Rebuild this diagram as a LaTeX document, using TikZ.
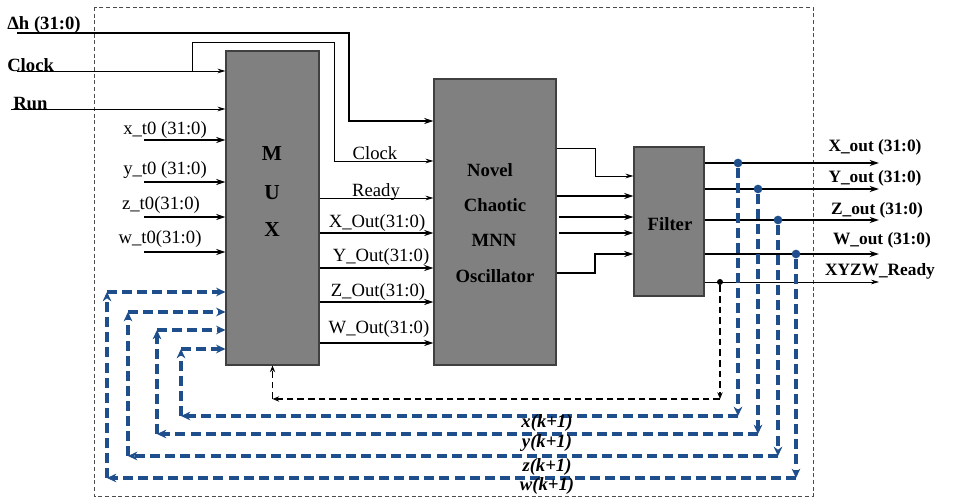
\documentclass[tikz,border=0pt]{standalone}
\usepackage{fontspec}
\setmainfont{Liberation Serif}
\usetikzlibrary{arrows.meta,fit}
\definecolor{fb}{HTML}{1F4E8C}
\begin{document}
\begin{tikzpicture}[x=0.75pt,y=-0.75pt,
  blk/.style={draw=black!75, fill=black!50, line width=0.8pt, inner sep=0pt},
  thinw/.style={line width=0.7pt, -{Stealth[length=6pt,width=3.5pt]}},
  bus/.style={line width=2pt, -{Stealth[length=7pt,width=4.5pt]}},
  fbk/.style={draw=fb, line width=2.6pt, dash pattern=on 7.5pt off 3.8pt, -{Stealth[length=7pt,width=6.5pt]}},
  rdy/.style={line width=0.8pt, dash pattern=on 5pt off 3pt, -{Stealth[length=5pt,width=4pt]}},
  lbl/.style={font=\fontsize{14}{16}\selectfont, inner sep=0pt},
  blbl/.style={font=\bfseries\fontsize{14}{16}\selectfont, inner sep=0pt},
  rlbl/.style={font=\bfseries\fontsize{13}{15}\selectfont, inner sep=0pt},
  klbl/.style={font=\bfseries\itshape\fontsize{14}{16}\selectfont, inner sep=0pt},
  bigl/.style={font=\bfseries\fontsize{16}{18}\selectfont, inner sep=0pt},
  dot/.style={circle, fill=fb, inner sep=0pt, minimum size=6.5pt},
  bdot/.style={circle, fill=black, inner sep=0pt, minimum size=4.5pt}
]
\useasboundingbox (0,0) rectangle (979,498);
% outer dashed frame
\draw[black!70, line width=0.6pt, densely dashed] (94,7) rectangle (813,496);

% blocks
\node[blk, fit={(226,51)(319,365)}] (mux) {};
\node[blk, fit={(434,79)(556,365)}] (osc) {};
\node[blk, fit={(634,147)(704,296)}] (flt) {};

\node[bigl] (mM) at (272,154) {M};
\node[bigl] (mU) at (272,193) {U};
\node[bigl] (mX) at (272,230) {X};
\node[blbl] (o1) at (490,170) {Novel};
\node[blbl] (o2) at (495,205) {Chaotic};
\node[blbl] (o3) at (494,240) {MNN};
\node[blbl] (o4) at (495,276) {Oscillator};
\node[blbl] (fl) at (670,224) {Filter};

% input labels
\node[blbl, anchor=west] (ldh) at (7,25) {Δh (31:0)};
\node[blbl, anchor=west] (lclk) at (7,65) {Clock};
\node[blbl, anchor=west] (lrun) at (13,104) {Run};
\node[lbl] (lx0) at (165,130) {x\_t0 (31:0)};
\node[lbl] (ly0) at (165,170) {y\_t0 (31:0)};
\node[lbl] (lz0) at (161,205) {z\_t0(31:0)};
\node[lbl] (lw0) at (160,239) {w\_t0(31:0)};

% input free ends
\coordinate (dh0) at (17,33);
\coordinate (dhk) at (349,121);
\coordinate (clk0) at (17,71);
\coordinate (clkb) at (192,71);
\coordinate (clkc) at (334,161);
\coordinate (run0) at (11,109);
\coordinate (x0) at (144,140);
\coordinate (y0) at (144,182);
\coordinate (z0) at (144,217);
\coordinate (w0) at (144,252);

\draw[bus] (dh0) -| (dhk) -- (dhk -| osc.west);
\draw[thinw] (clk0) -- (clk0 -| mux.west);
\draw[thinw] (clkb) -- ++(0,-29) -| (clkc) -- (clkc -| osc.west);
\draw[thinw] (run0) -- (run0 -| mux.west);
\draw[bus] (x0) -- (x0 -| mux.west);
\draw[bus] (y0) -- (y0 -| mux.west);
\draw[bus] (z0) -- (z0 -| mux.west);
\draw[bus] (w0) -- (w0 -| mux.west);

% MUX -> oscillator
\node[lbl] (lck) at (375,153) {Clock};
\node[lbl] (lrd) at (376,192) {Ready};
\node[lbl] (lxo) at (377,223) {X\_Out(31:0)};
\node[lbl] (lyo) at (381,257) {Y\_Out(31:0)};
\node[lbl] (lzo) at (378,292) {Z\_Out(31:0)};
\node[lbl] (lwo) at (379,329) {W\_Out(31:0)};
\draw[thinw] (mux.east |- 0,198) -- (osc.west |- 0,198);
\draw[bus] (mux.east |- 0,233) -- (osc.west |- 0,233);
\draw[bus] (mux.east |- 0,268) -- (osc.west |- 0,268);
\draw[bus] (mux.east |- 0,302) -- (osc.west |- 0,302);
\draw[bus] (mux.east |- 0,343) -- (osc.west |- 0,343);

% oscillator -> filter
\draw[thinw] (osc.east |- 0,148) -| (595,176) -- (flt.west |- 0,176);
\draw[bus] (osc.east |- 0,196) -- (flt.west |- 0,196);
\draw[bus] ([xshift=1.5pt]osc.east |- 0,217) -- (flt.west |- 0,217);
\draw[bus] ([xshift=1.5pt]osc.east |- 0,233) -- (flt.west |- 0,233);
\draw[bus] (osc.east |- 0,273) -| (595,254) -- (flt.west |- 0,254);

% filter outputs
\coordinate (xo) at (879,163);
\coordinate (yo) at (879,189);
\coordinate (zo) at (879,220);
\coordinate (wo) at (879,254);
\coordinate (ro) at (879,282);
\draw[bus] (flt.east |- xo) -- (xo);
\draw[bus] (flt.east |- yo) -- (yo);
\draw[bus] (flt.east |- zo) -- (zo);
\draw[bus] (flt.east |- wo) -- (wo);
\draw[thinw] (flt.east |- ro) -- (ro);
\node[rlbl] (lxout) at (875,147) {X\_out (31:0)};
\node[rlbl] (lyout) at (875,178) {Y\_out (31:0)};
\node[rlbl] (lzout) at (877,210) {Z\_out (31:0)};
\node[rlbl] (lwout) at (882,240) {W\_out (31:0)};
\node[rlbl] (lrout) at (880,271) {XYZW\_Ready};

% feedback
\node[dot] (dx) at (738,163) {};
\node[dot] (dy) at (758,189) {};
\node[dot] (dz) at (778,220) {};
\node[dot] (dw) at (796,254) {};
\node[bdot] (dr) at (720,282) {};

\coordinate (ra) at (720,399);
\coordinate (rb) at (272.5,399);
\draw[rdy] (dr) -- (ra);
\draw[rdy] (ra) -- (rb);
\draw[rdy] (rb) -- (mux.south);

\coordinate (xa) at (738,416); \coordinate (xb) at (181,416); \coordinate (xc) at (181,349);
\coordinate (ya) at (758,434); \coordinate (yb) at (157,434); \coordinate (yc) at (157,330);
\coordinate (za) at (778,456); \coordinate (zb) at (128,456); \coordinate (zc) at (128,312);
\coordinate (wa) at (796,478); \coordinate (wb) at (107,478); \coordinate (wc) at (107,292);

\foreach \v in {x,y,z,w}{
  \draw[fbk] (d\v) -- (\v a);
  \draw[fbk] (\v a) -- (\v b);
  \draw[fbk] (\v b) -- (\v c);
  \draw[fbk] (\v c) -- (\v c -| mux.west);
}

\node[klbl] (kx) at (547,423) {x(k+1)};
\node[klbl] (ky) at (547,443) {y(k+1)};
\node[klbl] (kz) at (547,467) {z(k+1)};
\node[klbl] (kw) at (547,486) {w(k+1)};
\end{tikzpicture}
\end{document}
